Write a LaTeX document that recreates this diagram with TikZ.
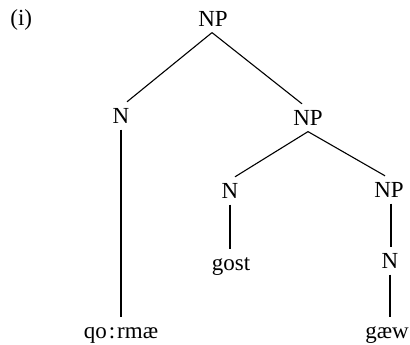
\documentclass[tikz,border=0pt]{standalone}
\usepackage{fontspec}
\setmainfont{Liberation Serif}
\begin{document}
\begin{tikzpicture}[x=0.5pt,y=-0.5pt,
  lab/.style={anchor=base,inner xsep=0pt,inner ysep=3.1pt,text height=7.3pt,text depth=0pt,font=\fontsize{11.5}{13}\selectfont},
  br/.style={line width=0.55pt}]
\useasboundingbox (0,0) rectangle (410,344);
\node[anchor=base west,inner sep=0pt,font=\fontsize{11.5}{13}\selectfont] (ex) at (10,25) {(i)};
\node[lab] (np0) at (213,26) {NP};
\node[lab] (n1) at (121,123) {N};
\node[lab] (np1) at (308,125) {NP};
\node[lab] (n2) at (230,198) {N};
\node[lab] (np2) at (389,197) {NP};
\node[lab] (gost) at (231,270) {gost};
\node[lab] (n3) at (390,268) {N};
\node[lab] (qormae) at (121,338) {qo\kern1pt:\kern1pt rmæ};
\node[lab] (gaew) at (387,338) {gæw};
\draw[br] ([xshift=-0.5pt]np0.south) -- ([xshift=3pt]n1.north);
\draw[br] ([xshift=-0.5pt]np0.south) -- ([xshift=-3pt]np1.north);
\draw[br] (n1.south) -- (n1.south |- qormae.north);
\draw[br] (np1.south) -- ([xshift=2.5pt]n2.north);
\draw[br] (np1.south) -- ([xshift=-2pt]np2.north);
\draw[br] (n2.south) -- (n2.south |- gost.north);
\draw[br] ([xshift=1pt]np2.south) -- ([xshift=1pt]np2.south |- n3.north);
\draw[br] (n3.south) -- (n3.south |- gaew.north);
\end{tikzpicture}
\end{document}
